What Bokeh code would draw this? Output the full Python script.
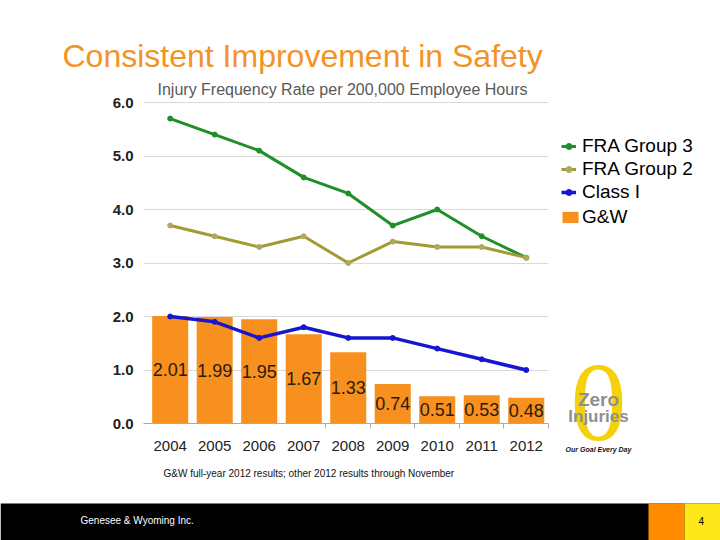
from bokeh.plotting import figure
from bokeh.models import (ColumnDataSource, FixedTicker, NumeralTickFormatter, Label,
                          Legend, LegendItem, BoxAnnotation, Range1d, LinearAxis, Grid)
from bokeh.embed import file_html
from bokeh.resources import INLINE

years = [2004, 2005, 2006, 2007, 2008, 2009, 2010, 2011, 2012]
fra_group3 = [5.7, 5.4, 5.1, 4.6, 4.3, 3.7, 4.0, 3.5, 3.1]
fra_group2 = [3.7, 3.5, 3.3, 3.5, 3.0, 3.4, 3.3, 3.3, 3.1]
class_one = [2.0, 1.9, 1.6, 1.8, 1.6, 1.6, 1.4, 1.2, 1.0]
gw = [2.01, 1.99, 1.95, 1.67, 1.33, 0.74, 0.51, 0.53, 0.48]
gw_labels = ["2.01", "1.99", "1.95", "1.67", "1.33", "0.74", "0.51", "0.53", "0.48"]
y_ticks = [0, 1, 2, 3, 4, 5, 6]

ORANGE = "#F7901E"
GREEN = "#1F8F27"
OLIVE = "#A39A33"
BLUE = "#1616D0"
FONT = "Liberation Sans"

W, H = 720, 540
# plot area in canvas pixels and its data extent
X_LO, X_HI = 2003.4, 2012.5
PX_L, PX_R = 143, 548
Y_LO, Y_HI = 0.0, 6.0
PX_T, PX_B = 102, 423
kx = (PX_R - PX_L) / (X_HI - X_LO)
ky = (PX_B - PX_T) / (Y_HI - Y_LO)


def xd(px):
    return X_LO + (px - PX_L) / kx


def yd(py):
    return Y_LO + (PX_B - py) / ky


src = ColumnDataSource(dict(x=years, g3=fra_group3, g2=fra_group2, c1=class_one,
                            gw=gw, gw_mid=[v / 2 for v in gw], lab=gw_labels))

p = figure(width=W, height=H, output_backend="svg", toolbar_location=None,
           x_range=Range1d(xd(0), xd(W)), y_range=Range1d(yd(H), yd(0)),
           x_axis_type=None, y_axis_type=None, min_border=0)
p.outline_line_color = None
p.background_fill_color = "white"
p.border_fill_color = "white"
p.xgrid.visible = False
p.ygrid.visible = False

# grid lines limited to the plot area
if "cross_bounds" in Grid.properties():
    grid = Grid(dimension=1, ticker=FixedTicker(ticks=y_ticks[1:]), grid_line_color="#d9d9d9",
                cross_bounds=(X_LO, X_HI))
    p.add_layout(grid)
else:
    p.segment(x0=[X_LO] * 6, x1=[X_HI] * 6, y0=y_ticks[1:], y1=y_ticks[1:],
              line_color="#d9d9d9", line_width=1)

bars = p.vbar(x="x", top="gw", width=0.81, source=src, fill_color=ORANGE, line_color=None)
p.text(x="x", y="gw_mid", text="lab", source=src, text_align="center",
       text_baseline="middle", text_font_size="18px", text_color="#2a1c0a",
       text_font={"value": FONT})

l3 = p.line("x", "g3", source=src, line_color=GREEN, line_width=3)
s3 = p.scatter("x", "g3", source=src, size=5, color=GREEN)
l2 = p.line("x", "g2", source=src, line_color=OLIVE, line_width=3)
s2 = p.scatter("x", "g2", source=src, size=5, color="#B0A860")
l1 = p.line("x", "c1", source=src, line_color=BLUE, line_width=3.5)
s1 = p.scatter("x", "c1", source=src, size=5, color=BLUE)

# axes at fixed locations inside the canvas
yaxis = LinearAxis(fixed_location=X_LO, ticker=FixedTicker(ticks=y_ticks),
                   formatter=NumeralTickFormatter(format="0.0"))
yaxis.axis_line_color = None
yaxis.major_tick_line_color = None
yaxis.major_tick_out = 0
yaxis.major_tick_in = 0
yaxis.minor_tick_line_color = None
yaxis.major_label_text_font = FONT
yaxis.major_label_text_font_style = "bold"
yaxis.major_label_text_font_size = "15px"
yaxis.major_label_text_color = "#222222"
yaxis.major_label_standoff = 10
p.add_layout(yaxis, "left")

xaxis = LinearAxis(fixed_location=0, bounds=(X_LO, X_HI),
                   ticker=FixedTicker(ticks=years,
                                      minor_ticks=[2007.5, 2008.5, 2009.5, 2010.5, 2011.5, 2012.5]))
xaxis.major_label_overrides = {y: str(y) for y in years}
xaxis.axis_line_color = "#aaaaaa"
xaxis.major_tick_line_color = None
xaxis.minor_tick_line_color = "#aaaaaa"
xaxis.minor_tick_in = 0
xaxis.minor_tick_out = 5
xaxis.major_tick_out = 0
xaxis.major_label_standoff = 12
xaxis.major_label_text_font = FONT
xaxis.major_label_text_font_size = "15px"
xaxis.major_label_text_color = "#222222"
p.add_layout(xaxis, "below")

legend_style = dict(padding=0, margin=0, border_line_color=None, background_fill_alpha=0,
                    label_text_font=FONT, label_text_font_size="19px",
                    label_text_color="#000000", label_height=20)
legend = Legend(items=[
    LegendItem(label="FRA Group 3", renderers=[l3, s3]),
    LegendItem(label="FRA Group 2", renderers=[l2, s2]),
    LegendItem(label="Class I", renderers=[l1, s1]),
], location=(561, 337), spacing=1, glyph_height=20, glyph_width=15, label_standoff=6,
    **legend_style)
p.add_layout(legend)
legend_gw = Legend(items=[LegendItem(label="G&W", renderers=[bars])],
                   location=(560, 312), glyph_height=14, glyph_width=20, label_standoff=2,
                   **legend_style)
p.add_layout(legend_gw)


def label(px, py, text, **kw):
    opts = dict(x=px, y=H - py, x_units="screen", y_units="screen", text=text,
                text_font=FONT, text_baseline="middle")
    opts.update(kw)
    p.add_layout(Label(**opts))


label(62, 55, "Consistent Improvement in Safety", text_font_size="32px", text_color="#F39325")
label(157, 89, "Injury Frequency Rate per 200,000 Employee Hours", text_font_size="16px",
      text_color="#595959")
label(163, 473, "G&W full-year 2012 results; other 2012 results through November",
      text_font_size="10px", text_color="#111111")

# Zero Injuries badge
label(598, 402, "0", text_font="Liberation Serif", text_font_size="112px",
      text_color="#F5D10A", text_align="center")
label(598, 399, "Zero", text_font_style="bold", text_font_size="19px",
      text_color="#8f8f8f", text_align="center")
label(598, 416, "Injuries", text_font_style="bold", text_font_size="17px",
      text_color="#8f8f8f", text_align="center")
label(598, 449, "Our Goal Every Day", text_font_style="bold italic", text_font_size="7px",
      text_color="#111111", text_align="center")

# footer band
p.add_layout(BoxAnnotation(top=yd(503), fill_color="black", fill_alpha=1, line_color=None))
p.add_layout(BoxAnnotation(top=yd(503), left=xd(648), right=xd(684), fill_color="#FF8C00",
                           fill_alpha=1, line_color=None))
p.add_layout(BoxAnnotation(top=yd(503), left=xd(684), fill_color="#FFE81A",
                           fill_alpha=1, line_color=None))
label(80, 520, "Genesee & Wyoming Inc.", text_font_size="10px", text_color="white")
label(698, 520, "4", text_font_size="10px", text_color="black")

open("out.html", "w").write(file_html(p, INLINE))
